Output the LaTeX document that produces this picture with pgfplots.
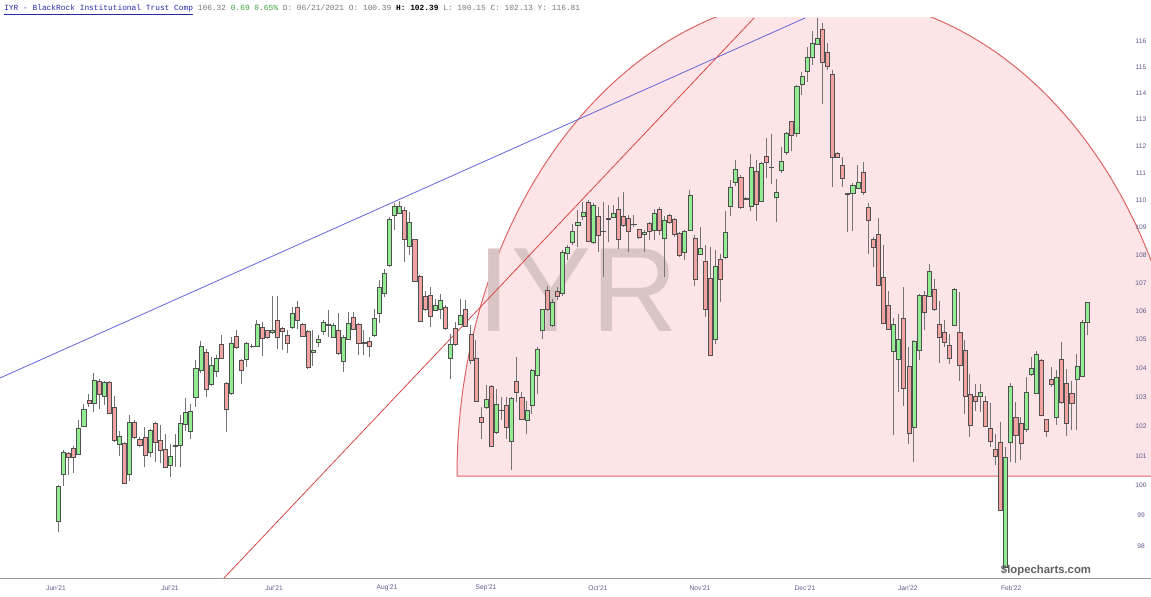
\documentclass[border=0pt]{standalone}
\usepackage{fontspec}
\setmainfont{Liberation Sans}
\setmonofont{Liberation Mono}
\usepackage{pgfplots}
\usepackage{pgfplotstable}
\pgfplotsset{compat=1.18}
\definecolor{pinkfill}{RGB}{253,228,230}
\definecolor{pinkedge}{RGB}{222,100,100}
\definecolor{bluel}{RGB}{100,100,220}
\definecolor{redl}{RGB}{215,70,70}
\definecolor{upfill}{RGB}{146,236,146}
\definecolor{dnfill}{RGB}{243,162,162}
\definecolor{outl}{RGB}{80,80,80}
\definecolor{wickc}{RGB}{115,115,115}
\definecolor{ticklab}{RGB}{90,90,140}
\definecolor{wmark}{RGB}{217,197,198}
\definecolor{hdrblue}{RGB}{40,40,170}
\definecolor{hdrgray}{RGB}{120,120,120}
\definecolor{hdrgreen}{RGB}{60,160,60}

\pgfplotstableread{
x o h l c
0 98.82 100.02 98.47 99.96
1 100.38 101.21 99.98 101.13
2 101.07 101.13 100.35 100.94
3 101.24 101.32 100.41 100.96
4 101.04 102.20 101.02 101.92
5 102.00 102.77 101.97 102.57
6 102.88 103.11 102.66 102.80
7 102.79 103.83 102.49 103.57
8 103.55 103.63 102.60 103.09
9 103.02 103.57 102.72 103.52
10 103.52 103.55 102.41 102.45
11 102.66 103.05 101.46 101.52
12 101.39 101.85 100.99 101.67
13 101.41 101.46 100.07 100.09
14 100.39 102.39 100.15 102.13
15 102.14 102.20 101.57 101.61
16 101.57 101.63 101.30 101.35
17 101.63 101.97 100.63 101.02
18 101.13 101.92 100.96 101.85
19 102.09 102.14 100.79 101.46
20 101.54 102.03 100.74 101.18
21 101.21 101.74 100.58 100.61
22 100.67 101.41 100.29 100.99
23 101.37 101.72 100.63 101.32
24 101.35 102.37 100.63 102.09
25 102.06 102.98 101.85 102.46
26 101.82 102.77 101.57 102.50
27 102.98 104.27 102.66 104.01
28 103.94 104.93 103.82 104.77
29 104.54 104.68 103.00 103.26
30 103.44 104.38 103.37 104.09
31 103.90 104.44 103.69 104.36
32 104.82 105.14 104.33 104.36
33 103.46 103.52 101.80 102.57
34 103.13 105.08 103.06 104.87
35 105.10 105.32 104.68 104.71
36 104.27 104.33 103.46 103.92
37 104.30 104.91 104.03 104.85
38 104.77 104.85 104.71 104.75
39 104.76 105.67 104.73 105.55
40 105.43 105.61 104.41 105.05
41 105.32 105.34 105.03 105.06
42 105.26 106.55 105.20 105.32
43 105.67 106.52 104.68 105.08
44 105.38 105.43 104.62 105.28
45 105.14 105.32 104.51 104.85
46 105.42 106.14 105.38 105.94
47 106.12 106.35 105.38 105.67
48 105.55 105.57 105.08 105.10
49 105.28 105.32 103.98 104.03
50 104.54 105.32 104.09 104.64
51 104.91 105.14 104.73 105.02
52 105.29 105.67 105.14 105.62
53 105.55 106.05 105.08 105.49
54 105.08 105.57 105.06 105.51
55 105.32 105.95 104.45 104.51
56 104.24 105.14 103.86 105.06
57 105.02 105.97 104.97 105.58
58 105.78 105.97 105.32 105.35
59 105.55 105.57 104.45 104.88
60 104.90 105.32 104.45 104.88
61 104.94 105.08 104.38 104.76
62 105.14 106.08 105.08 105.76
63 105.91 107.09 105.57 106.85
64 106.62 107.51 106.50 107.36
65 107.63 109.38 107.59 109.29
66 109.45 109.88 108.90 109.78
67 109.53 109.97 109.51 109.78
68 109.61 109.75 107.75 108.58
69 108.33 109.57 107.99 109.18
70 108.57 108.60 107.03 107.06
71 107.23 107.27 105.61 105.64
72 106.53 106.73 106.02 106.05
73 106.58 106.85 105.43 105.80
74 106.02 106.44 106.00 106.20
75 106.08 106.62 105.73 106.38
76 106.14 106.20 105.35 105.38
77 104.36 105.20 103.63 104.82
78 105.38 105.61 104.79 104.82
79 105.53 106.44 105.50 105.85
80 106.06 106.38 105.43 105.47
81 105.17 105.50 104.15 104.29
82 104.33 104.99 102.82 102.86
83 102.31 102.66 101.57 102.14
84 102.66 103.40 102.60 102.91
85 103.37 103.40 101.30 101.32
86 101.80 103.29 101.75 102.75
87 102.55 103.00 102.20 102.53
88 102.71 103.00 101.57 101.95
89 101.49 103.00 100.52 102.96
90 103.55 104.38 102.82 103.15
91 102.98 103.17 102.20 102.25
92 102.20 102.88 101.75 102.55
93 102.72 103.98 102.43 103.92
94 103.77 104.73 103.11 104.65
95 105.32 106.08 105.02 106.06
96 106.73 106.91 106.02 106.06
97 105.50 106.44 105.43 106.30
98 106.70 106.85 106.38 106.53
99 106.62 108.17 106.52 108.11
100 108.05 108.35 107.81 108.27
101 108.45 109.14 108.35 108.86
102 109.08 109.63 108.29 109.20
103 109.41 109.93 109.26 109.55
104 109.93 110.00 108.47 108.51
105 108.47 109.88 108.41 109.81
106 109.41 109.75 108.11 108.71
107 108.87 109.93 107.21 108.86
108 109.35 109.81 108.47 109.31
109 109.36 109.81 109.33 109.53
110 109.65 110.12 108.23 108.58
111 109.41 110.30 109.02 109.08
112 109.35 109.45 108.11 108.87
113 109.13 109.45 109.02 109.10
114 108.92 108.96 108.60 108.63
115 108.74 108.90 108.11 108.83
116 109.14 109.20 108.53 108.87
117 108.90 109.69 108.56 109.53
118 109.65 109.73 108.71 108.90
119 108.60 109.41 107.21 109.26
120 109.45 109.51 109.14 109.20
121 109.29 109.36 108.65 108.74
122 108.78 108.84 107.93 107.99
123 108.11 108.92 107.83 108.86
124 108.90 110.37 108.87 110.18
125 108.60 108.71 106.88 107.13
126 108.03 109.02 107.99 108.25
127 107.78 108.35 105.78 106.06
128 107.17 108.29 104.41 104.45
129 105.02 108.17 104.85 107.60
130 107.85 108.03 106.32 107.13
131 107.93 109.60 107.87 108.83
132 109.79 110.74 109.42 110.49
133 110.67 111.48 110.53 111.15
134 110.86 110.92 109.69 109.73
135 110.06 110.12 110.02 110.05
136 109.78 111.69 109.59 111.21
137 111.08 111.48 109.23 109.86
138 109.97 111.42 109.93 111.36
139 111.64 112.32 110.80 111.40
140 111.21 112.44 110.61 111.20
141 110.10 110.76 109.20 110.28
142 111.11 111.96 110.99 111.42
143 111.77 112.52 111.67 112.48
144 112.92 112.94 111.82 112.39
145 112.48 114.31 112.35 114.27
146 114.34 114.82 113.93 114.66
147 114.85 115.78 114.44 115.39
148 115.39 116.37 115.07 115.91
149 115.87 116.90 115.87 116.10
150 116.47 116.69 113.60 115.20
151 115.55 115.91 114.88 115.01
152 114.72 114.88 110.49 111.60
153 111.73 111.77 111.55 111.57
154 111.27 111.60 110.49 110.82
155 110.24 110.28 108.84 110.22
156 110.24 110.62 108.86 110.55
157 110.45 111.29 110.43 110.65
158 111.04 111.42 110.18 110.30
159 109.75 109.88 108.05 109.25
160 108.57 108.67 107.59 108.27
161 108.76 109.33 106.88 106.91
162 107.19 108.35 105.55 105.57
163 106.20 106.73 105.32 105.34
164 104.59 105.76 101.69 105.53
165 104.30 105.88 103.17 105.02
166 105.76 106.85 102.71 103.32
167 104.06 104.73 101.39 101.77
168 101.95 104.97 100.79 104.94
169 104.62 106.62 104.29 106.55
170 106.55 106.73 105.32 105.96
171 106.52 107.67 106.49 107.42
172 106.76 107.15 106.02 106.08
173 105.53 106.35 104.17 105.08
174 105.24 105.67 104.73 104.91
175 104.79 105.20 104.13 104.36
176 105.50 106.83 105.47 106.78
177 105.26 106.67 103.55 104.09
178 104.64 104.97 102.43 103.01
179 103.11 103.81 101.63 102.05
180 103.04 103.46 102.52 102.84
181 103.01 103.46 102.50 103.16
182 102.85 103.02 101.97 102.01
183 101.92 102.78 101.30 101.48
184 101.21 101.75 100.68 100.97
185 101.44 102.14 99.16 99.18
186 97.32 101.30 97.31 100.94
187 101.46 103.48 100.79 103.37
188 102.29 102.84 100.76 101.69
189 102.09 102.31 100.87 101.41
190 101.89 103.69 101.80 103.15
191 103.78 104.38 103.74 104.00
192 103.13 104.59 103.11 104.50
193 104.29 104.33 102.34 102.37
194 102.23 102.26 101.63 101.83
195 103.63 104.03 103.34 103.44
196 102.29 103.94 102.06 103.67
197 104.30 104.91 102.77 102.81
198 103.46 103.98 101.66 102.09
199 103.13 103.57 101.86 102.79
200 103.61 104.48 101.86 104.07
201 103.72 105.67 103.69 105.62
202 105.62 106.32 105.14 106.30
}\candles

\begin{document}
\begin{tikzpicture}[x=0.75pt,y=0.75pt]
\path[use as bounding box] (0,0) rectangle (1151,596);
% annotations behind the candles (pixel coordinates)
\begin{scope}
\clip (0,18) rectangle (1151,578);
\filldraw[fill=pinkfill, draw=pinkedge, line width=0.75pt] (457,120) arc[start angle=180, end angle=0, x radius=366.5, y radius=480] -- cycle;
\node[font=\fontsize{90}{90}\selectfont, text=wmark, inner sep=0pt] at (578,306) {IYR};
\draw[bluel, line width=0.6pt] (0,218) -- (805,578);
\draw[redl, line width=0.6pt] (224,18) -- (754,578);
\end{scope}
\draw[gray!80, line width=0.75pt] (0,18) -- (1151,18);
\begin{axis}[
  at={(0pt,13.5pt)}, anchor=south west,
  scale only axis, width=863.25pt, height=420pt,
  % price axis is logarithmic: prices are plotted as ln(price)
  y filter/.expression={ln(y)},
  ymin=4.574298, ymax=4.761267,
  xmin=-11.447, xmax=214.55,
  axis line style={draw=none},
  major tick length=0pt, minor tick num=0,
  ytick={4.584967,4.595120,4.605170,4.615121,4.624973,4.634729,4.644391,4.653960,4.663439,4.672829,4.682131,4.691348,4.700480,4.709530,4.718499,4.727388,4.736198,4.744932,4.753590},
  yticklabels={98,99,100,101,102,103,104,105,106,107,108,109,110,111,112,113,114,115,116},
  yticklabel pos=right,
  yticklabel style={anchor=center, inner sep=0pt, xshift=-7.5pt, font=\fontsize{5}{6}\selectfont, text=ticklab},
  xtick={-0.45,21.93,42.36,64.54,83.99,105.97,126.0,146.6,166.8,187.1},
  xticklabels={Jun'21,Jul'21,Jul'21,Aug'21,Sep'21,Oct'21,Nov'21,Dec'21,Jan'22,Feb'22},
  xticklabel style={anchor=center, inner sep=0pt, yshift=-7.5pt, font=\fontsize{5}{6}\selectfont, text=ticklab},
  wick/.style={draw=wickc, line width=0.7pt, mark=none, forget plot},
  upc/.style={fill=upfill, draw=outl, line width=0.45pt, mark=none, forget plot},
  dnc/.style={fill=dnfill, draw=outl, line width=0.45pt, mark=none, forget plot},
]
\pgfplotstablegetrowsof{\candles}
\pgfmathtruncatemacro{\N}{\pgfplotsretval-1}
\pgfplotsforeachungrouped \i in {0,...,\N}{%
  \pgfplotstablegetelem{\i}{x}\of\candles\let\cx\pgfplotsretval
  \pgfplotstablegetelem{\i}{o}\of\candles\let\co\pgfplotsretval
  \pgfplotstablegetelem{\i}{h}\of\candles\let\ch\pgfplotsretval
  \pgfplotstablegetelem{\i}{l}\of\candles\let\cl\pgfplotsretval
  \pgfplotstablegetelem{\i}{c}\of\candles\let\cc\pgfplotsretval
  \pgfmathsetmacro\xa{\cx-0.4}%
  \pgfmathsetmacro\xb{\cx+0.4}%
  \pgfmathtruncatemacro\isup{\cc>=\co}%
  \ifnum\isup=1 \def\cstyle{upc}\else\def\cstyle{dnc}\fi
  \edef\doit{%
    \noexpand\addplot[wick] coordinates {(\cx,\cl) (\cx,\ch)};%
    \noexpand\addplot[\cstyle] coordinates {(\xa,\co) (\xb,\co) (\xb,\cc) (\xa,\cc)} -- cycle;%
  }\doit
}
\end{axis}
\node[anchor=west, inner sep=0pt, font=\fontsize{5.9}{7}\selectfont\ttfamily] at (4,586) {\textcolor{hdrblue}{\underline{IYR - BlackRock Institutional Trust Comp}} \textcolor{hdrgray}{106.32} \textcolor{hdrgreen}{0.69 0.65\%} \textcolor{hdrgray}{D: 06/21/2021 O: 100.39} \textbf{H: 102.39} \textcolor{hdrgray}{L: 100.15 C: 102.13 Y: 116.81}};
\node[font=\fontsize{8.5}{9}\selectfont\bfseries, text=gray!75!black, inner sep=0pt] at (1046,26) {\$lopecharts.com};
\end{tikzpicture}
\end{document}
